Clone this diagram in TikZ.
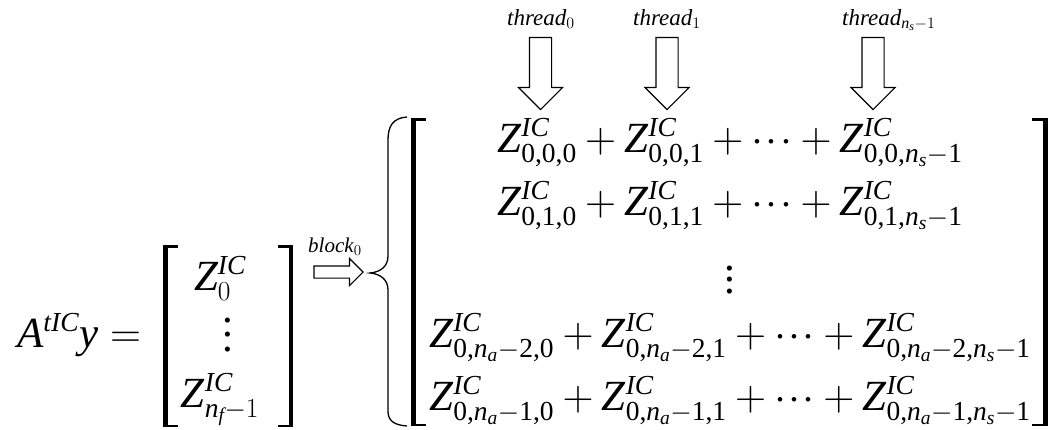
\RequirePackage{fix-cm}
\documentclass[tikz,border=0pt]{standalone}
\usepackage{amsmath}
\usepackage{fontspec}
\setmainfont{Liberation Serif}
\usetikzlibrary{shapes.arrows}
\DeclareMathSizes{43}{43}{27.5}{19.5}
\DeclareMathSizes{23}{23}{16}{12}
\DeclareMathSizes{21}{21}{15}{11}
\newcommand\ZIC[1]{\mathit{Z}^{\mathit{IC}}_{#1}}
\newcommand\nn[1]{\mathit{n}_{\mathit{#1}}}
\newcommand\tx[1]{\text{#1}}
\newcommand\dts{\mathinner{\cdotp\mkern-2mu\cdotp\mkern-2mu\cdotp}}
\newcommand\vdts[1]{\vbox{\baselineskip=#1\lineskiplimit=-100pt\hbox{.}\hbox{.}\hbox{.}}}
\newcommand\tightmath{\medmuskip=3.5mu plus 2mu minus 3mu\relax}
\tikzset{
  big/.style={inner sep=0pt, font=\fontsize{43}{51}\selectfont\tightmath},
  lab/.style={inner sep=0pt, font=\fontsize{23}{27}\selectfont},
  blab/.style={inner sep=0pt, font=\fontsize{21}{25}\selectfont},
  darrow/.style={draw, line width=1.1pt, single arrow, shape border rotate=270,
    inner sep=10.5pt, minimum height=72pt, single arrow head extend=11pt},
  rarrow/.style={draw, line width=1.1pt, single arrow,
    inner sep=5.5pt, minimum height=49pt, single arrow head extend=7.5pt},
  brk/.style={fill=black},
  brace/.style={draw, line width=1.3pt}
}
\begin{document}
\begin{tikzpicture}[x=1pt,y=-1pt]
\useasboundingbox (0,0) rectangle (1053,429);
% left side
\node[big, anchor=base west] (lhs) at (17,347) {$\mathit{A}^{\mathit{tIC}}\mathit{y}=$};
\node[big, anchor=base] (z0) at (220,290) {$\ZIC{0}$};
\node[big, anchor=center] (vd1) at (228,335) {\vdts{14.5pt}};
\node[big, anchor=base] (znf) at (220,407) {$\ZIC{\nn{f}-1}$};
% small brackets
\fill[brk] (163,245) rectangle (167.5,427);
\fill[brk] (163,245) rectangle (178,247.5);
\fill[brk] (163,424.5) rectangle (178,427);
\fill[brk] (288.5,245) rectangle (293,427);
\fill[brk] (278,245) rectangle (293,247.5);
\fill[brk] (278,424.5) rectangle (293,427);
% block arrow
\node[blab, anchor=base west] (blk) at (308,252) {\textit{block}$_0$};
\node[rarrow] (ba) at (335.5,272) {};
% brace
\path[brace] (407,117) .. controls (393,118) and (388,126) .. (388,140)
  -- (388,256) .. controls (388,266) and (381,272) .. (370,273)
  .. controls (381,274) and (388,280) .. (388,290)
  -- (388,411) .. controls (388,420) and (393,425) .. (407,426);
% big brackets
\fill[brk] (411,118) rectangle (415.5,426);
\fill[brk] (411,118) rectangle (426,120.5);
\fill[brk] (411,423.5) rectangle (426,426);
\fill[brk] (1043,118) rectangle (1047.5,426);
\fill[brk] (1032,118) rectangle (1047.5,120.5);
\fill[brk] (1032,423.5) rectangle (1047.5,426);
% rows
\node[big, anchor=base] (r1) at (730,152) {$\ZIC{\tx{0,0,0}}+\ZIC{\tx{0,0,1}}+\dts+\ZIC{\tx{0,0,}\nn{s}-\tx{1}}$};
\node[big, anchor=base] (r2) at (730,215) {$\ZIC{\tx{0,1,0}}+\ZIC{\tx{0,1,1}}+\dts+\ZIC{\tx{0,1,}\nn{s}-\tx{1}}$};
\node[big, anchor=center] (vd2) at (730,280) {\vdts{11.5pt}};
\node[big, anchor=base] (r4) at (730,347) {$\ZIC{\tx{0,}\nn{a}-\tx{2,0}}+\ZIC{\tx{0,}\nn{a}-\tx{2,1}}+\dts+\ZIC{\tx{0,}\nn{a}-\tx{2,}\nn{s}-\tx{1}}$};
\node[big, anchor=base] (r5) at (730,410) {$\ZIC{\tx{0,}\nn{a}-\tx{1,0}}+\ZIC{\tx{0,}\nn{a}-\tx{1,1}}+\dts+\ZIC{\tx{0,}\nn{a}-\tx{1,}\nn{s}-\tx{1}}$};
% threads
\node[lab, anchor=base west] (t0) at (507,25) {\textit{thread}$_0$};
\node[lab, anchor=base west] (t1) at (633,25) {\textit{thread}$_1$};
\node[lab, anchor=base west] (tn) at (842,25) {\textit{thread}$_{\nn{s}-1}$};
\node[darrow] (a0) at (540.5,68) {};
\node[darrow] (a1) at (667,68) {};
\node[darrow] (an) at (873,68) {};
\end{tikzpicture}
\end{document}
